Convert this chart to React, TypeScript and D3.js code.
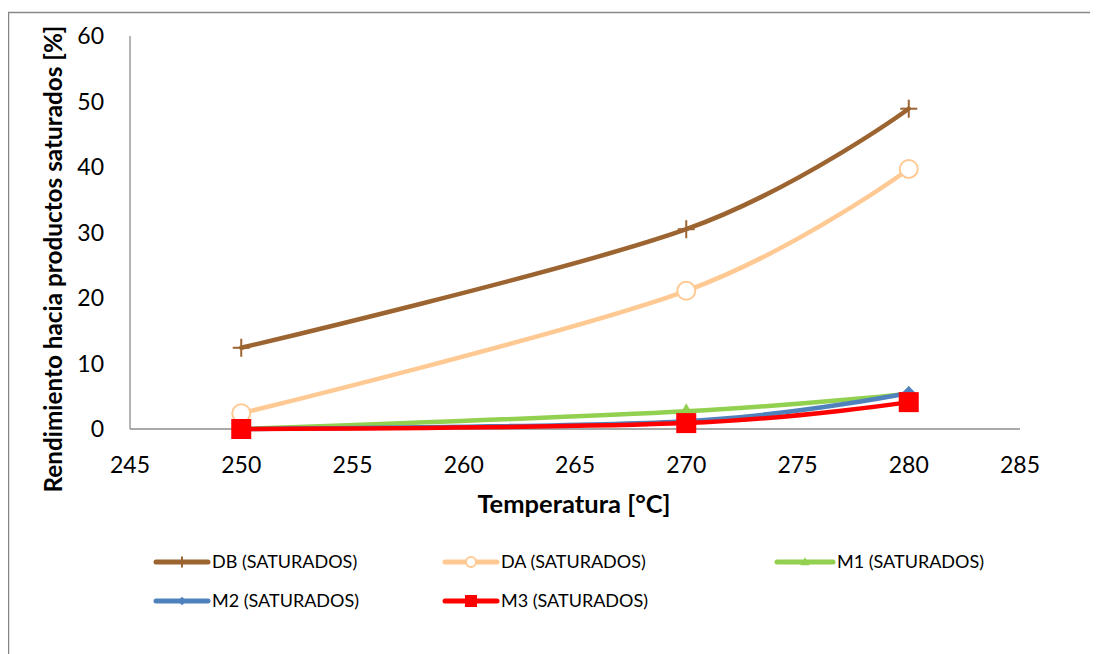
import React from "react";
import * as d3 from "d3";

const temperatures = [250, 270, 280];
const dbValues = [12.4, 30.5, 48.9];
const daValues = [2.4, 21.1, 39.7];
const m1Values = [0, 2.7, 5.4];
const m2Values = [0, 1.2, 5.5];
const m3Values = [0, 0.9, 4.1];
const xTicks = [245, 250, 255, 260, 265, 270, 275, 280, 285];
const yTicks = [0, 10, 20, 30, 40, 50, 60];

type Marker = "plus" | "circle" | "triangle" | "diamond" | "square";
interface Series {
  name: string;
  values: number[];
  color: string;
  marker: Marker;
}

const series: Series[] = [
  { name: "DB (SATURADOS)", values: dbValues, color: "#9C6431", marker: "plus" },
  { name: "DA (SATURADOS)", values: daValues, color: "#FFC993", marker: "circle" },
  { name: "M1 (SATURADOS)", values: m1Values, color: "#92D050", marker: "triangle" },
  { name: "M2 (SATURADOS)", values: m2Values, color: "#4F81BD", marker: "diamond" },
  { name: "M3 (SATURADOS)", values: m3Values, color: "#FF0000", marker: "square" },
];

const FONT = "Lato, 'Open Sans', sans-serif";

function MarkerShape({ type, x, y, color, small }: { type: Marker; x: number; y: number; color: string; small?: boolean }) {
  const k = small ? 0.6 : 1;
  switch (type) {
    case "plus":
      return (
        <g stroke={color} strokeWidth={2}>
          <line x1={x - 8.5 * k} x2={x + 8.5 * k} y1={y} y2={y} />
          <line x1={x} x2={x} y1={y - 9 * k} y2={y + 9 * k} />
        </g>
      );
    case "circle":
      return <circle cx={x} cy={y} r={small ? 5 : 9} fill="#fff" stroke={color} strokeWidth={2} />;
    case "triangle": {
      const s = 8 * k;
      return <path d={`M${x},${y - s}L${x + s},${y + s * 0.7}L${x - s},${y + s * 0.7}Z`} fill={color} />;
    }
    case "diamond": {
      const s = 7 * k;
      return <path d={`M${x},${y - s}L${x + s},${y}L${x},${y + s}L${x - s},${y}Z`} fill={color} />;
    }
    case "square": {
      const s = small ? 6 : 10;
      return <rect x={x - s} y={y - s} width={2 * s} height={2 * s} fill={color} />;
    }
  }
}

export default function App() {
  const width = 1090;
  const height = 646;
  // svg sits at (8,8) inside the body margin
  const left = 122;
  const right = 1012;
  const top = 28;
  const bottom = 421;

  const x = d3.scaleLinear().domain([245, 285]).range([left, right]);
  const y = d3.scaleLinear().domain([0, 60]).range([bottom, top]);

  const line = d3
    .line<number>()
    .x((_, i) => x(temperatures[i]))
    .y((v) => y(v))
    .curve(d3.curveCardinal.tension(0));

  const legendRows = [
    [
      { s: series[0], lx: 148, len: 52 },
      { s: series[1], lx: 437, len: 52 },
      { s: series[2], lx: 769, len: 56 },
    ],
    [
      { s: series[3], lx: 148, len: 52 },
      { s: series[4], lx: 437, len: 52 },
    ],
  ];
  const legendY = [554, 593];

  return (
    <svg width={width} height={height} style={{ display: "block" }} fontFamily={FONT}>
      <rect x={0.5} y={4.5} width={1200} height={800} fill="#fff" stroke="#878787" strokeWidth={1.5} />

      {/* axes */}
      <line x1={left} x2={left} y1={top} y2={bottom} stroke="#8C8C8C" strokeWidth={1.3} />
      <line x1={left} x2={right} y1={bottom} y2={bottom} stroke="#8C8C8C" strokeWidth={1.3} />

      {yTicks.map((t) => (
        <text key={t} x={left - 26} y={y(t)} dy="0.35em" textAnchor="end" fontSize={23} fill="#000">
          {t}
        </text>
      ))}
      {xTicks.map((t) => (
        <text key={t} x={x(t)} y={465} textAnchor="middle" fontSize={23} fill="#000">
          {t}
        </text>
      ))}

      <text x={(left + right) / 2 - 1} y={505} textAnchor="middle" fontSize={25.5} fontWeight="bold">
        Temperatura [°C]
      </text>
      <text
        transform={`translate(54,251) rotate(-90)`}
        textAnchor="middle"
        fontSize={24.3}
        fontWeight="bold"
      >
        Rendimiento hacia productos saturados [%]
      </text>

      {/* series lines */}
      {series.map((s) => (
        <path key={s.name} d={line(s.values) || ""} fill="none" stroke={s.color} strokeWidth={4.5} strokeLinecap="round" />
      ))}
      {series.map((s) =>
        s.values.map((v, i) => (
          <MarkerShape key={s.name + i} type={s.marker} x={x(temperatures[i])} y={y(v)} color={s.color} />
        ))
      )}

      {/* legend */}
      {legendRows.map((row, r) =>
        row.map(({ s, lx, len }) => (
          <g key={s.name}>
            <line x1={lx} x2={lx + len} y1={legendY[r]} y2={legendY[r]} stroke={s.color} strokeWidth={5} strokeLinecap="round" />
            <MarkerShape type={s.marker} x={lx + len / 2} y={legendY[r]} color={s.color} small />
            <text x={lx + len + 4} y={legendY[r]} dy="0.35em" fontSize={18}>
              {s.name}
            </text>
          </g>
        ))
      )}
    </svg>
  );
}
